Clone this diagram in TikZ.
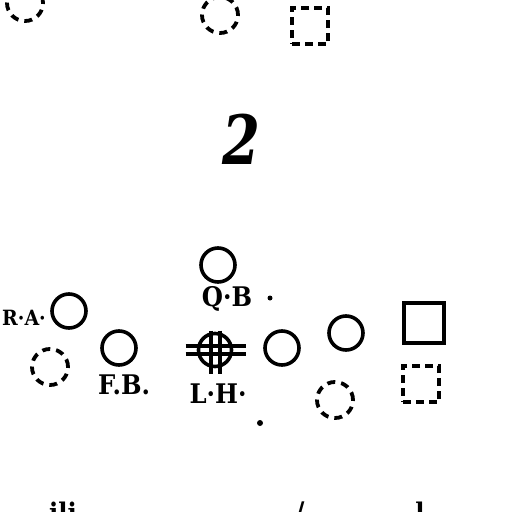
\documentclass[tikz,border=0pt]{standalone}
\usepackage{fontspec}
\newfontfamily\slabfont{DejaVu Serif}
\newfontfamily\slabcond{DejaVu Serif Condensed}
\begin{document}
\begin{tikzpicture}[x=1pt,y=-1pt,
  player/.style={circle,draw=black,line width=3.6pt,minimum size=34pt,inner sep=0pt},
  ghost/.style={circle,draw=black,line width=3.8pt,dash pattern=on 8pt off 6pt,minimum size=36pt,inner sep=0pt},
  endbox/.style={rectangle,draw=black,line width=3.6pt,minimum size=40pt,inner sep=0pt},
  ghostbox/.style={rectangle,draw=black,line width=3.8pt,dash pattern=on 8pt off 5pt,minimum size=36pt,inner sep=0pt},
  lbl/.style={font=\slabcond\bfseries\fontsize{27}{27}\selectfont,inner sep=0pt},
  hatch/.style={line width=3.4pt},
  speck/.style={circle,fill=black,inner sep=0pt,minimum size=6pt}]
\useasboundingbox (0,0) rectangle (512,512);
\clip (0,0) rectangle (512,512);
% top row (partially cut off)
\node[ghost] (t1) at (25,3) {};
\node[ghost] (t2) at (220,15) {};
\node[ghostbox] (t3) at (310,26) {};
% formation number
\node[inner sep=0pt,xscale=0.8,font=\slabfont\bfseries\itshape\fontsize{68}{68}\selectfont] (num) at (241,139) {2};
% players
\node[player] (qb) at (218,265) {};
\node[lbl] (qbl) at (227,299) {Q·B};
\node[speck,minimum size=5pt] (d1) at (270,298) {};
\node[player] (ra) at (69,311) {};
\node[lbl,font=\slabcond\bfseries\fontsize{21}{21}\selectfont] (ral) at (24,318) {R·A·};
\node[ghost] (g1) at (50,367) {};
\node[player] (fb) at (119,348) {};
\node[lbl] (fbl) at (124,385) {F.B.};
\node[player,minimum size=33pt] (lh) at (215,350) {};
\draw[hatch] (lh.north) ++(-4,-1) -- ++(0,43);
\draw[hatch] (lh.north) ++(5,-1) -- ++(0,43);
\draw[hatch] (lh.west) ++(-11,-4) -- ++(60,0);
\draw[hatch] (lh.west) ++(-11,4) -- ++(60,0);
\node[lbl] (lhl) at (218,394) {L·H·};
\node[speck] (d2) at (260,423) {};
\node[player] (p1) at (282,348) {};
\node[player] (p2) at (346,333) {};
\node[endbox] (e1) at (424,323) {};
\node[ghostbox] (e2) at (421,384) {};
\node[ghost] (g2) at (335,400) {};
% partially visible text at the bottom edge
\node[lbl,anchor=north] (b1) at (63,502) {ili};
\node[lbl,anchor=north] (b2) at (300,502) {/};
\node[lbl,anchor=north] (b3) at (420,502) {l};
\end{tikzpicture}
\end{document}
